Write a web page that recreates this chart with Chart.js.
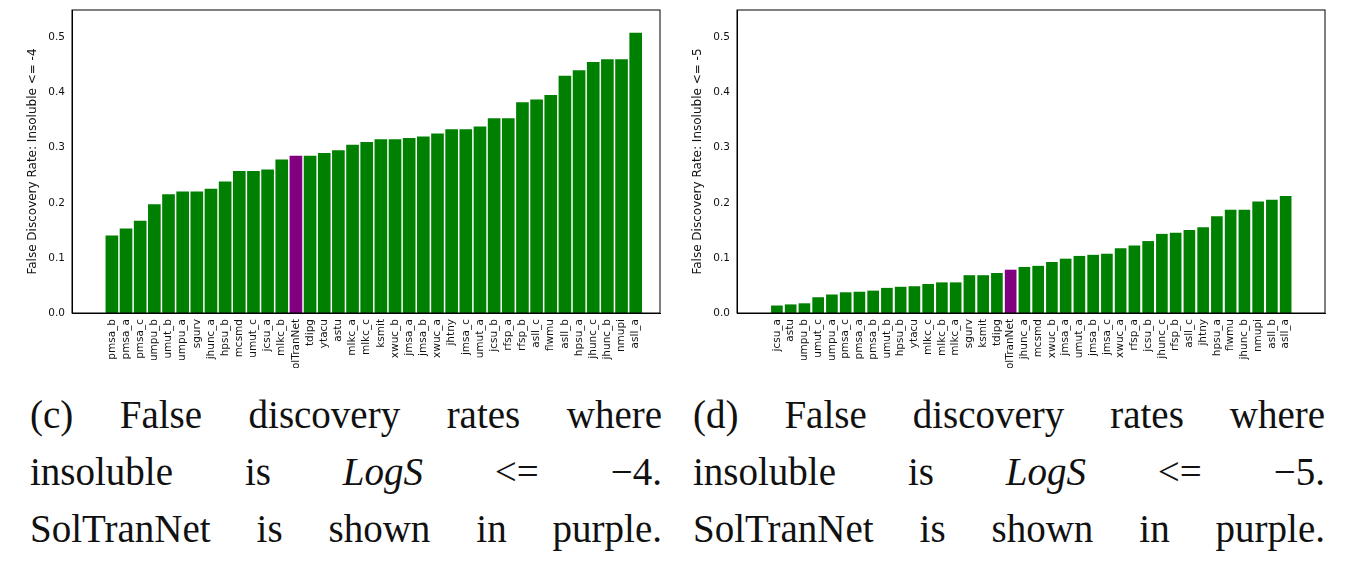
<!DOCTYPE html>
<html><head><meta charset="utf-8">
<script src="https://cdn.jsdelivr.net/npm/chart.js@4/dist/chart.umd.min.js"></script>
<style>
body{margin:0;background:#fff;width:1345px;height:563px;overflow:hidden;position:relative}
.c{position:absolute;top:0;height:368px;width:665px}
.cap{position:absolute;top:386px;width:632px;font-family:"Liberation Serif","DejaVu Serif",serif;font-size:39px;line-height:57px;color:#111}
.cap div{text-align:justify;text-align-last:justify;white-space:nowrap}
.cap div.l{text-align-last:left}
</style></head><body>
<div class="c" style="left:0"><canvas id="a"></canvas></div>
<div class="c" style="left:665px"><canvas id="b"></canvas></div>
<div class="cap" style="left:30px"><div>(c) False discovery rates where</div><div>insoluble is <i>LogS</i> &lt;= −4.</div><div>SolTranNet is shown in purple.</div></div>
<div class="cap" style="left:693px"><div>(d) False discovery rates where</div><div>insoluble is <i>LogS</i> &lt;= −5.</div><div>SolTranNet is shown in purple.</div></div>
<script>
const labelsC=["pmsa_b","pmsa_a","pmsa_c","umpu_b","umut_b","umpu_a","sgurv","jhunc_a","hpsu_b","mcsmd","umut_c","jcsu_a","mlkc_b","SolTranNet","tdipg","ytacu","astu","mlkc_a","mlkc_c","ksmit","xwuc_b","jmsa_a","jmsa_b","xwuc_a","jhtny","jmsa_c","umut_a","jcsu_b","rfsp_a","rfsp_b","asll_c","flwmu","asll_b","hpsu_a","jhunc_c","jhunc_b","nmupi","asll_a"];
const valuesC=[0.14,0.153,0.167,0.197,0.215,0.22,0.22,0.225,0.238,0.257,0.257,0.26,0.278,0.285,0.285,0.29,0.295,0.305,0.31,0.315,0.315,0.317,0.32,0.325,0.333,0.333,0.338,0.353,0.353,0.382,0.387,0.395,0.43,0.44,0.455,0.46,0.46,0.508];
const labelsD=["jcsu_a","astu","umpu_b","umut_c","umpu_a","pmsa_c","pmsa_a","pmsa_b","umut_b","hpsu_b","ytacu","mlkc_c","mlkc_b","mlkc_a","sgurv","ksmit","tdipg","SolTranNet","jhunc_a","mcsmd","xwuc_b","jmsa_a","umut_a","jmsa_b","jmsa_c","xwuc_a","rfsp_a","jcsu_b","jhunc_c","rfsp_b","asll_c","jhtny","hpsu_a","flwmu","jhunc_b","nmupi","asll_b","asll_a"];
const valuesD=[0.013,0.015,0.017,0.028,0.033,0.037,0.038,0.04,0.045,0.047,0.048,0.052,0.055,0.055,0.068,0.068,0.072,0.078,0.083,0.085,0.092,0.098,0.103,0.105,0.107,0.117,0.122,0.13,0.143,0.145,0.15,0.155,0.175,0.187,0.187,0.202,0.205,0.212];
const yTicks=[0,0.1,0.2,0.3,0.4,0.5];
const HL="SolTranNet";
function make(id,labels,values,title,xmin,xmax,bw){
  new Chart(document.getElementById(id),{type:'bar',
    data:{datasets:[{data:values.map((v,i)=>({x:i,y:v})),
      backgroundColor:labels.map(l=>l===HL?'#800080':'#008000'),barThickness:bw}]},
    options:{responsive:true,maintainAspectRatio:false,animation:false,
      layout:{padding:{top:10,right:5,left:26,bottom:0}},
      plugins:{legend:{display:false},tooltip:{enabled:false}},
      scales:{
        x:{type:'linear',min:xmin,max:xmax,grid:{display:false,tickLength:4,tickColor:'#000'},border:{color:'#000'},
          afterBuildTicks:a=>{a.ticks=labels.map((l,i)=>({value:i}));},
          afterFit:a=>{a.height=55;},
          ticks:{autoSkip:false,maxRotation:90,minRotation:90,color:'#111',font:{family:'DejaVu Sans',size:10.5},padding:2,callback:v=>labels[v]}},
        y:{min:0,max:0.55,grid:{display:false,tickLength:4,tickColor:'#000'},border:{color:'#000'},
          afterBuildTicks:a=>{a.ticks=yTicks.map(v=>({value:v}));},
          afterFit:a=>{a.width=46;},
          title:{display:true,text:title,color:'#111',font:{family:'DejaVu Sans',size:12},padding:0},
          ticks:{color:'#111',font:{family:'DejaVu Sans',size:10.5},callback:v=>v.toFixed(1)}}
      }},
    plugins:[{id:'box',afterDraw:c=>{const a=c.chartArea,x=c.ctx;x.save();x.strokeStyle='#000';x.lineWidth=1;x.strokeRect(a.left,a.top,a.right-a.left,a.bottom-a.top);x.restore();}}]
  });
}
make('a',labelsC,valuesC,'False Discovery Rate: Insoluble <= -4',-2.27,38.17,12);
make('b',labelsD,valuesD,'False Discovery Rate: Insoluble <= -5',-2.34,39.3,11);
</script></body></html>
